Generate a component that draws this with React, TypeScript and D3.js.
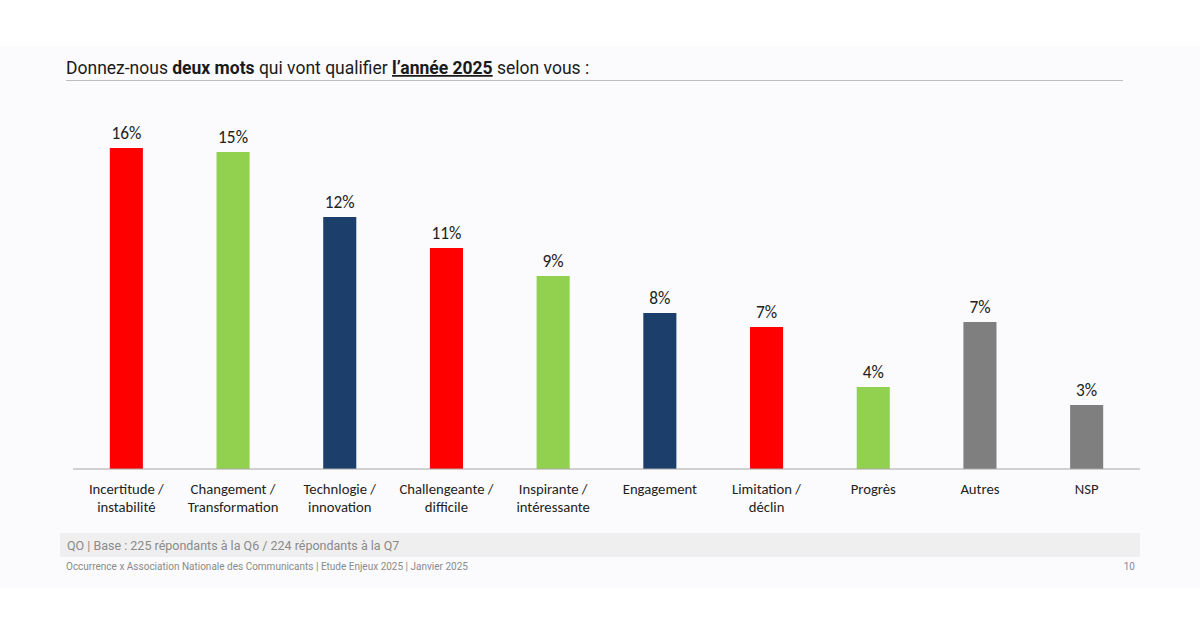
import React from "react";
import * as d3 from "d3";

const categories: string[][] = [
  ["Incertitude /", "instabilité"],
  ["Changement /", "Transformation"],
  ["Technlogie /", "innovation"],
  ["Challengeante /", "difficile"],
  ["Inspirante /", "intéressante"],
  ["Engagement"],
  ["Limitation /", "déclin"],
  ["Progrès"],
  ["Autres"],
  ["NSP"],
];
const values: number[] = [16.05, 15.85, 12.6, 11.05, 9.65, 7.8, 7.1, 4.1, 7.35, 3.2];
const valueLabels: string[] = ["16%", "15%", "12%", "11%", "9%", "8%", "7%", "4%", "7%", "3%"];
const colorKeys: string[] = ["red", "green", "navy", "red", "green", "navy", "red", "green", "gray", "gray"];
const palette: Record<string, string> = {
  red: "#ff0000",
  green: "#92d050",
  navy: "#1b3f6a",
  gray: "#7f7f7f",
};

const W = 1200;
const H = 628;
const left = 73;
const right = 1140;
const baseline = 469;
const pxPerUnit = 20;

export default function App() {
  const x = d3
    .scaleBand<number>()
    .domain(d3.range(values.length))
    .range([left, right])
    .paddingInner(0.69)
    .paddingOuter(0.345);
  const y = d3
    .scaleLinear()
    .domain([0, 16])
    .range([baseline, baseline - 16 * pxPerUnit]);

  const catFont = "Carlito, 'Open Sans', 'Noto Sans', sans-serif";

  return (
    <svg
      width={W}
      height={H}
      style={{ position: "absolute", left: 0, top: 0, display: "block" }}
    >
      <rect x={0} y={0} width={W} height={H} fill="#ffffff" />
      <rect x={0} y={46} width={W} height={542} fill="#fbfbfd" />

      {/* Title */}
      <text
        x={66}
        y={74}
        fontFamily="Roboto, sans-serif"
        fontSize={17.5}
        fill="#1a1a1a"
      >
        <tspan>Donnez-nous </tspan>
        <tspan fontWeight="bold">deux mots</tspan>
        <tspan> qui vont qualifier </tspan>
        <tspan fontWeight="bold" textDecoration="underline">
          l’année 2025
        </tspan>
        <tspan> selon vous :</tspan>
      </text>
      <line x1={66} x2={1123} y1={80.5} y2={80.5} stroke="#bdbdbd" strokeWidth={1.2} />

      {/* Bars */}
      {values.map((v, i) => (
        <g key={i}>
          <rect
            x={x(i)}
            y={y(v)}
            width={x.bandwidth()}
            height={baseline - y(v)}
            fill={palette[colorKeys[i]]}
          />
          <text
            x={(x(i) as number) + x.bandwidth() / 2}
            y={y(v) - 9.5}
            textAnchor="middle"
            fontFamily={catFont}
            fontSize={17.3}
            fill="#222"
          >
            {valueLabels[i]}
          </text>
          {categories[i].map((line, j) => (
            <text
              key={j}
              x={(x(i) as number) + x.bandwidth() / 2}
              y={494 + j * 17.5}
              textAnchor="middle"
              fontFamily={catFont}
              fontSize={14.7}
              fill="#222"
            >
              {line}
            </text>
          ))}
        </g>
      ))}
      <line x1={left} x2={right} y1={baseline} y2={baseline} stroke="#a6a6a6" strokeWidth={1.2} />

      {/* Footnote */}
      <rect x={60} y={533} width={1080} height={24} fill="#efefef" />
      <text
        x={67}
        y={549.5}
        fontFamily="Roboto, sans-serif"
        fontSize={12.5}
        fill="#8a8a8a"
      >
        QO | Base : 225 répondants à la Q6 / 224 répondants à la Q7
      </text>
      <text
        x={66}
        y={570}
        fontFamily="Roboto, sans-serif"
        fontSize={10}
        fill="#8a8a8a"
      >
        Occurrence x Association Nationale des Communicants | Etude Enjeux 2025 | Janvier 2025
      </text>
      <text
        x={1135}
        y={570}
        textAnchor="end"
        fontFamily="Roboto, sans-serif"
        fontSize={10}
        fill="#8a8a8a"
      >
        10
      </text>
    </svg>
  );
}
